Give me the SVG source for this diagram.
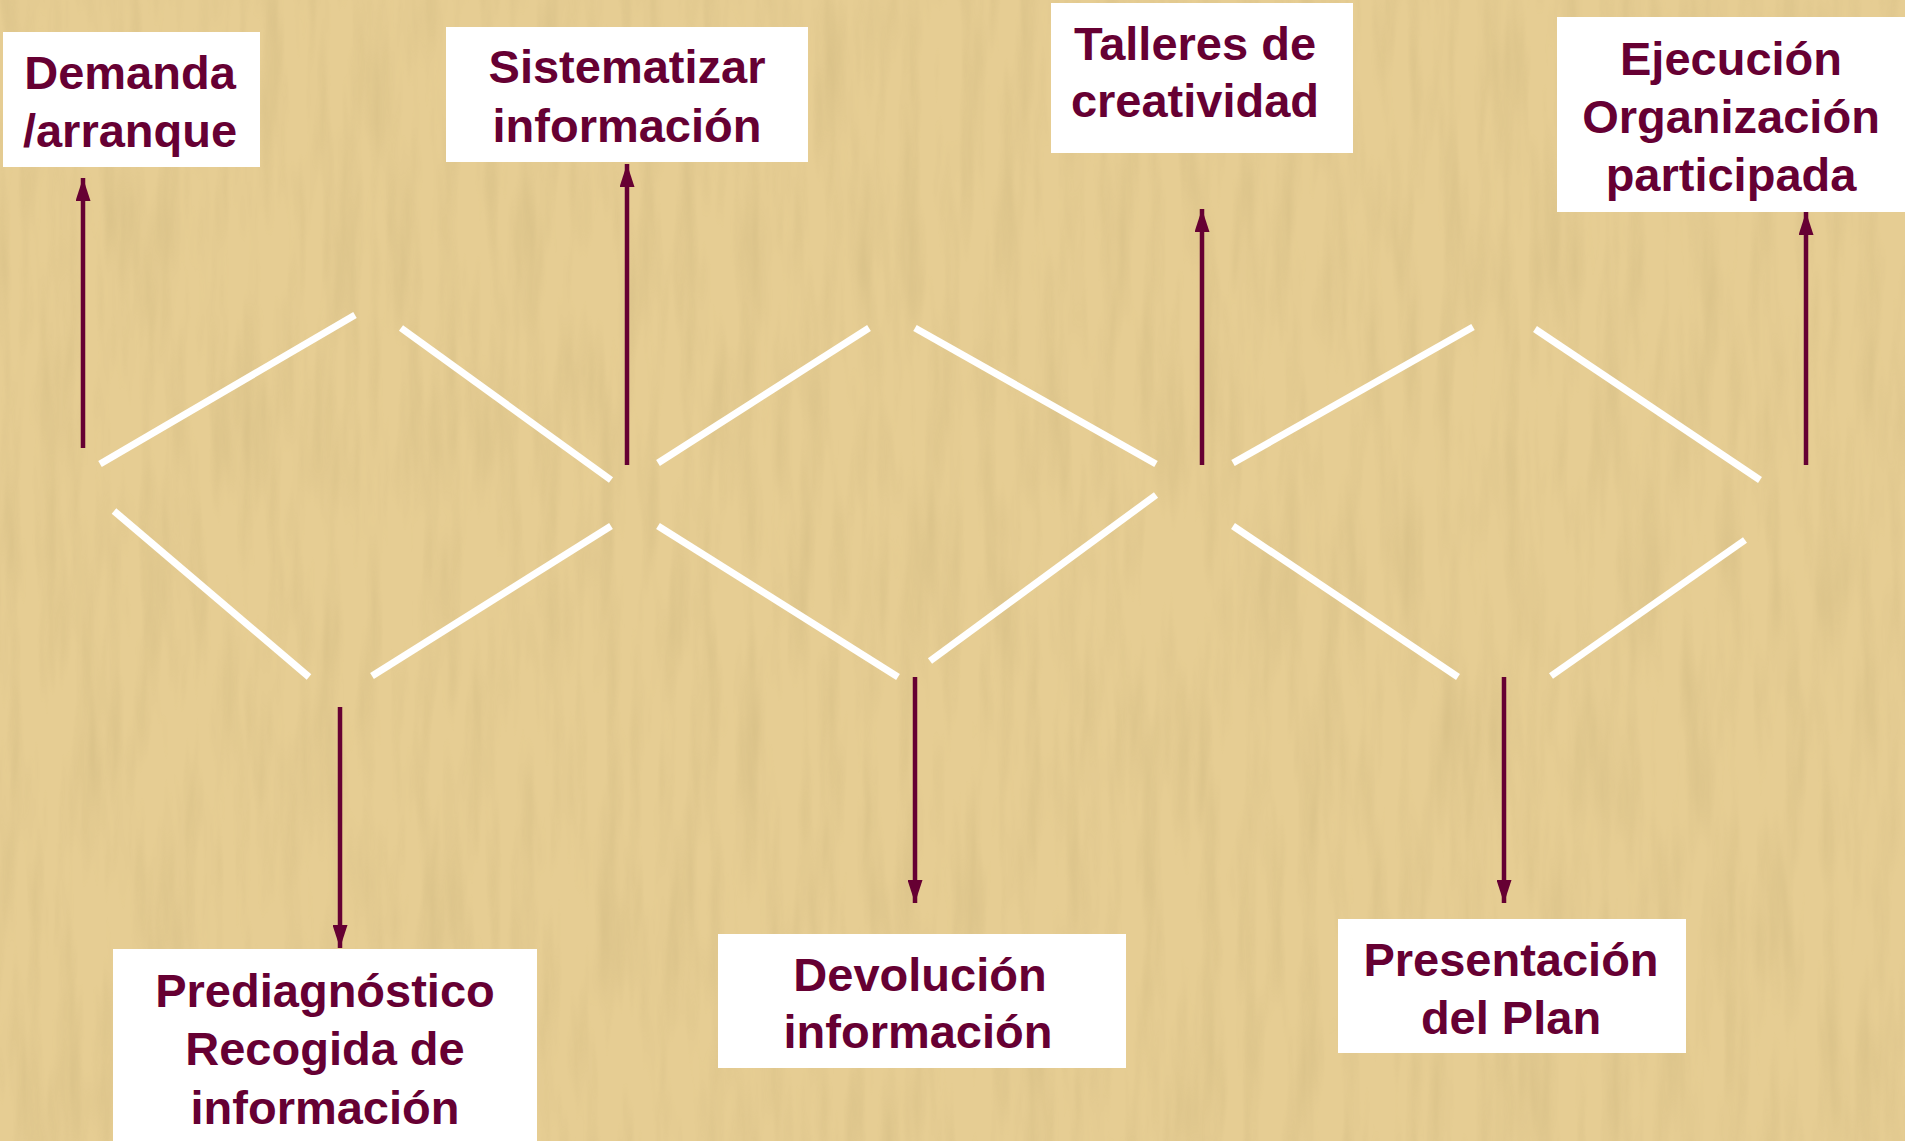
<svg xmlns="http://www.w3.org/2000/svg" width="1905" height="1141" viewBox="0 0 1905 1141">
<defs>
<style>
.box{fill:#ffffff}
.t{font-family:"Liberation Sans",Arial,sans-serif;font-weight:bold;font-size:47px;fill:#660033;text-anchor:middle}
.w{stroke:#ffffff;stroke-width:7;stroke-linecap:butt}
.a{stroke:#660033;stroke-width:4.5;fill:none}
</style>
<marker id="ah" viewBox="0 0 10 10" refX="10" refY="5" markerUnits="userSpaceOnUse" markerWidth="23" markerHeight="15" preserveAspectRatio="none" orient="auto">
<path d="M0,0 L10,5 L0,10 Z" fill="#660033"/>
</marker>
<filter id="tex" x="0" y="0" width="100%" height="100%">
<feTurbulence type="fractalNoise" baseFrequency="0.05 0.006" numOctaves="3" seed="7" result="n"/>
<feColorMatrix in="n" type="matrix" values="0 0 0 0 0.55  0 0 0 0 0.42  0 0 0 0 0.18  0 0 0 1.1 -0.45"/>
</filter>
</defs>
<rect x="0" y="0" width="1905" height="1141" fill="#E6CD93"/>
<rect x="0" y="0" width="1905" height="1141" filter="url(#tex)" opacity="0.55"/>

<g id="connectors">
<line class="w" x1="100" y1="464" x2="355" y2="315"/>
<line class="w" x1="401" y1="328" x2="611" y2="480"/>
<line class="w" x1="658" y1="463" x2="869" y2="328"/>
<line class="w" x1="915" y1="328" x2="1156" y2="464"/>
<line class="w" x1="1233" y1="463" x2="1473" y2="327"/>
<line class="w" x1="1535" y1="329" x2="1760" y2="480"/>
<line class="w" x1="114" y1="511" x2="309" y2="677"/>
<line class="w" x1="372" y1="676" x2="611" y2="526"/>
<line class="w" x1="658" y1="526" x2="898" y2="677"/>
<line class="w" x1="930" y1="661" x2="1156" y2="495"/>
<line class="w" x1="1233" y1="526" x2="1458" y2="677"/>
<line class="w" x1="1551" y1="676" x2="1745" y2="540"/>

<line class="a" x1="83" y1="448" x2="83" y2="178" marker-end="url(#ah)"/>
<line class="a" x1="627" y1="465" x2="627" y2="164" marker-end="url(#ah)"/>
<line class="a" x1="1202" y1="465" x2="1202" y2="209" marker-end="url(#ah)"/>
<line class="a" x1="1806" y1="465" x2="1806" y2="212" marker-end="url(#ah)"/>
<line class="a" x1="340" y1="707" x2="340" y2="948" marker-end="url(#ah)"/>
<line class="a" x1="915" y1="677" x2="915" y2="903" marker-end="url(#ah)"/>
<line class="a" x1="1504" y1="677" x2="1504" y2="903" marker-end="url(#ah)"/>
</g>

<g id="n-demanda">
<rect class="box" x="3" y="32" width="257" height="135"/>
<text class="t" x="130" y="89">Demanda</text>
<text class="t" x="130" y="147">/arranque</text>
</g>
<g id="n-sistematizar">
<rect class="box" x="446" y="27" width="362" height="135"/>
<text class="t" x="627" y="83">Sistematizar</text>
<text class="t" x="627" y="142">información</text>
</g>
<g id="n-talleres">
<rect class="box" x="1051" y="3" width="302" height="150"/>
<text class="t" x="1195" y="60">Talleres de</text>
<text class="t" x="1195" y="117">creatividad</text>
</g>
<g id="n-ejecucion">
<rect class="box" x="1557" y="17" width="348" height="195"/>
<text class="t" x="1731" y="75">Ejecución</text>
<text class="t" x="1731" y="133">Organización</text>
<text class="t" x="1731" y="191">participada</text>
</g>
<g id="n-prediagnostico">
<rect class="box" x="113" y="949" width="424" height="192"/>
<text class="t" x="325" y="1007">Prediagnóstico</text>
<text class="t" x="325" y="1065">Recogida de</text>
<text class="t" x="325" y="1124">información</text>
</g>
<g id="n-devolucion">
<rect class="box" x="718" y="934" width="408" height="134"/>
<text class="t" x="920" y="991">Devolución</text>
<text class="t" x="918" y="1048">información</text>
</g>
<g id="n-presentacion">
<rect class="box" x="1338" y="919" width="348" height="134"/>
<text class="t" x="1511" y="976">Presentación</text>
<text class="t" x="1511" y="1034">del Plan</text>
</g>
</svg>
